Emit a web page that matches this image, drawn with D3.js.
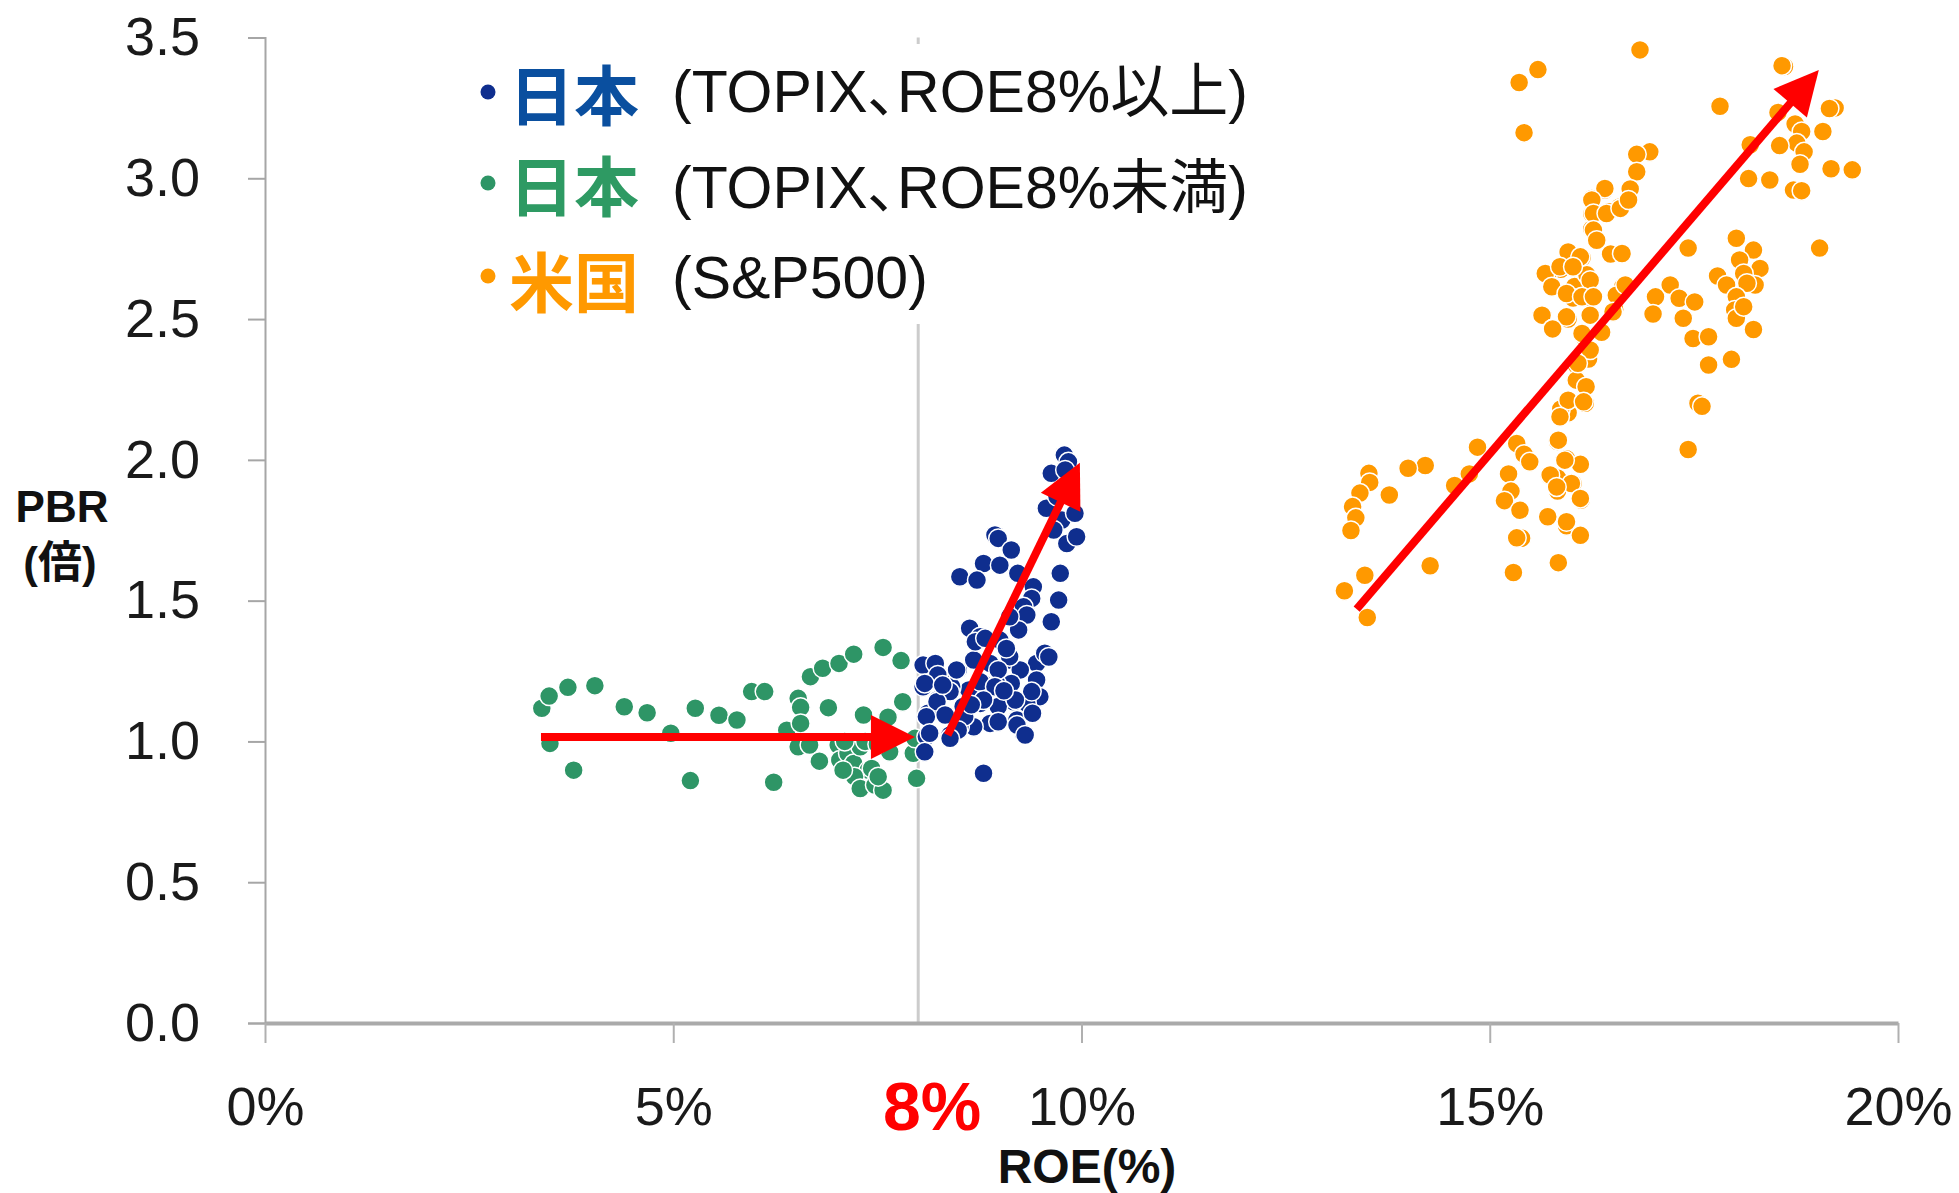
<!DOCTYPE html>
<html>
<head>
<meta charset="utf-8">
<script src="https://cdn.jsdelivr.net/npm/d3@7"></script>
<style>
  body { margin: 0; background: #fff; }
  svg { display: block; }
  text { font-family: "Liberation Sans", Arial, "Noto Sans CJK JP", sans-serif; }
</style>
</head>
<body>
<svg id="chart" width="1959" height="1193"></svg>
<script>
// axis ticks
var xTicks = [0, 5, 10, 15, 20];
var yTicks = [0, 0.5, 1, 1.5, 2, 2.5, 3, 3.5];

// Japan, ROE below 8% (ROE %, PBR)
var greenPts = [
	[3.39, 1.118], [3.48, 1.161], [3.49, 0.993], [3.71, 1.192], [3.78, 0.898], [4.04, 1.198],
	[4.40, 1.123], [4.68, 1.102], [4.97, 1.029], [5.21, 0.861], [5.27, 1.118], [5.56, 1.093],
	[5.78, 1.076], [5.96, 1.177], [6.12, 1.177], [6.23, 0.855], [6.39, 1.040], [6.53, 1.153],
	[6.56, 1.121], [6.56, 1.064], [6.53, 0.981], [6.67, 0.987], [6.68, 1.230], [6.83, 1.260],
	[6.90, 1.120], [6.79, 0.930], [7.03, 1.277], [7.21, 1.310], [7.57, 1.334], [7.79, 1.287],
	[7.81, 1.141], [7.33, 1.094], [7.63, 1.086], [7.02, 0.987], [7.04, 0.934], [7.14, 0.958],
	[7.21, 0.922], [7.29, 0.981], [7.39, 0.898], [7.22, 0.875], [7.29, 0.833], [7.47, 0.845],
	[7.57, 0.827], [7.43, 0.904], [7.65, 0.963], [7.94, 0.958], [7.96, 1.011], [7.98, 0.869],
	[7.08, 0.898], [7.51, 0.875], [7.10, 1.000], [7.35, 1.000], [7.50, 0.990]
];

// Japan, ROE 8% and above
var bluePts = [
	[9.79, 2.017], [9.84, 1.993], [9.63, 1.952], [9.80, 1.964], [9.57, 1.828], [9.76, 1.786],
	[9.82, 1.703], [9.94, 1.727], [9.66, 1.751], [9.92, 1.810], [9.74, 1.597], [9.72, 1.502],
	[9.63, 1.425], [8.94, 1.733], [8.98, 1.721], [9.14, 1.680], [8.80, 1.632], [9.00, 1.626],
	[8.51, 1.585], [8.72, 1.573], [9.22, 1.597], [9.41, 1.549], [9.39, 1.508], [9.29, 1.478],
	[9.33, 1.449], [9.23, 1.396], [9.12, 1.443], [8.63, 1.402], [8.76, 1.372], [9.00, 1.360],
	[9.53, 1.301], [9.45, 1.277], [8.06, 1.271], [8.21, 1.277], [8.27, 1.230], [8.49, 1.254],
	[8.68, 1.289], [8.88, 1.277], [9.12, 1.289], [9.25, 1.254], [9.14, 1.206], [8.96, 1.206],
	[8.80, 1.206], [8.62, 1.183], [8.41, 1.194], [8.23, 1.147], [8.06, 1.194], [8.12, 1.100],
	[9.45, 1.218], [9.49, 1.159], [9.33, 1.135], [9.17, 1.141], [8.98, 1.124], [8.76, 1.135],
	[8.55, 1.124], [8.88, 1.064], [8.68, 1.052], [9.21, 1.076], [9.29, 1.029], [8.51, 1.052],
	[8.39, 1.023], [8.10, 1.017], [8.08, 0.963], [8.70, 1.354], [8.82, 1.366], [9.55, 1.313],
	[9.12, 1.301], [8.47, 1.254], [8.98, 1.254], [8.24, 1.236], [8.08, 1.206], [8.39, 1.177],
	[8.76, 1.212], [8.94, 1.194], [9.39, 1.177], [8.23, 1.141], [8.80, 1.147], [9.19, 1.147],
	[8.10, 1.088], [8.33, 1.094], [8.57, 1.088], [8.98, 1.070], [9.21, 1.058], [9.31, 1.023],
	[8.49, 1.040], [8.39, 1.011], [8.14, 1.029], [8.80, 0.887], [9.87, 1.900], [9.70, 1.870],
	[9.60, 1.300], [9.05, 1.180], [8.65, 1.130], [9.40, 1.100], [8.30, 1.200], [9.08, 1.330]
];

// US (S&P500)
var orangePts = [
	[16.84, 3.456], [15.59, 3.386], [15.36, 3.340], [15.42, 3.162], [18.61, 3.397], [18.58, 3.400],
	[17.82, 3.256], [19.23, 3.250], [19.16, 3.248], [18.53, 3.234], [18.74, 3.193], [18.82, 3.166],
	[19.08, 3.166], [18.76, 3.125], [18.55, 3.116], [18.85, 3.094], [18.19, 3.119], [18.80, 3.050],
	[19.18, 3.034], [19.44, 3.030], [18.17, 2.999], [18.43, 2.994], [18.72, 2.958], [18.82, 2.956],
	[19.04, 2.752], [16.96, 3.094], [16.80, 3.085], [16.80, 3.023], [16.72, 2.962], [16.59, 2.898],
	[16.41, 2.958], [16.25, 2.928], [16.25, 2.874], [16.46, 2.881], [16.30, 2.786], [16.25, 2.820],
	[16.62, 2.731], [16.48, 2.731], [17.43, 2.752], [16.13, 2.718], [15.96, 2.738], [15.87, 2.677],
	[15.71, 2.657], [15.77, 2.616], [16.04, 2.616], [16.19, 2.657], [16.02, 2.575], [16.21, 2.575],
	[15.64, 2.514], [15.77, 2.466], [16.23, 2.514], [15.96, 2.500], [16.53, 2.534], [16.63, 2.616],
	[16.37, 2.453], [16.15, 2.438], [16.21, 2.358], [16.06, 2.337], [16.17, 2.256], [16.06, 2.283],
	[16.17, 2.201], [15.96, 2.167], [15.87, 2.181], [15.83, 2.065], [15.94, 2.004], [16.11, 1.984],
	[15.73, 1.943], [15.83, 1.936], [16.02, 1.916], [15.83, 1.889], [16.12, 1.857], [15.71, 1.798],
	[15.94, 1.766], [16.11, 1.732], [15.84, 1.635], [15.33, 2.058], [15.47, 1.997], [15.42, 2.020],
	[15.23, 1.950], [15.26, 1.889], [15.18, 1.855], [15.37, 1.821], [15.39, 1.722], [15.33, 1.723],
	[15.29, 1.600], [14.85, 2.045], [14.75, 1.950], [14.57, 1.909], [14.21, 1.980], [14.00, 1.970],
	[13.77, 1.875], [13.52, 1.952], [13.53, 1.920], [13.41, 1.882], [13.32, 1.834], [13.36, 1.794],
	[13.30, 1.749], [14.27, 1.624], [13.47, 1.590], [13.22, 1.535], [13.50, 1.440],
	[18.02, 2.787], [18.23, 2.745], [17.79, 2.653], [18.06, 2.710], [18.31, 2.680], [18.11, 2.662],
	[18.25, 2.621], [18.15, 2.627], [17.90, 2.621], [18.02, 2.579], [18.00, 2.532], [18.02, 2.503],
	[18.23, 2.463], [18.11, 2.544], [17.21, 2.621], [17.03, 2.579], [17.00, 2.518], [17.32, 2.574],
	[17.51, 2.561], [17.37, 2.503], [17.49, 2.431], [17.68, 2.437], [17.68, 2.337], [17.96, 2.357],
	[17.55, 2.201], [17.60, 2.190], [17.43, 2.037],
	[16.11, 2.721], [15.68, 2.662], [15.76, 2.615], [15.86, 2.686], [16.02, 2.686], [16.23, 2.638],
	[15.94, 2.591], [16.13, 2.579], [16.27, 2.579], [16.55, 2.585], [16.66, 2.621], [16.51, 2.526],
	[15.94, 2.508], [15.77, 2.465], [16.13, 2.449], [16.23, 2.390], [16.08, 2.343], [16.18, 2.260],
	[15.96, 2.212], [16.15, 2.206], [15.86, 2.153], [15.84, 2.070], [15.49, 1.993], [15.74, 1.946],
	[15.92, 1.999], [16.00, 1.916], [15.82, 1.904], [16.11, 1.863], [15.94, 1.780],
	[16.41, 2.964], [16.25, 2.923], [16.27, 2.875], [16.43, 2.875], [16.60, 2.893], [16.70, 2.923],
	[16.27, 2.816], [16.31, 2.780], [16.62, 2.733]
];

// red trend arrows: [from, to] in (ROE %, PBR)
var arrows = [
	[[3.38, 1.016], [7.96, 1.016]],
	[[8.36, 1.023], [9.98, 1.99]],
	[[13.37, 1.47], [19.03, 3.385]]
];

// legend rows
var legendLabels = ["日本", "日本", "米国"];
var legendNotes = ["(TOPIX、ROE8%以上)", "(TOPIX、ROE8%未満)", "(S&P500)"];
var legendTextColors = ["#0a4f9f", "#2e9a63", "#ff9900"];
var dotColors = ["#0f2e8e", "#2e9566", "#ff9900"];

var svg = d3.select("#chart");

var x = d3.scaleLinear().domain([0, 20]).range([265, 1898]);
var y = d3.scaleLinear().domain([0, 3.5]).range([1023, 37.5]);

// 8% line
svg.append("line")
	.attr("x1", x(8)).attr("x2", x(8))
	.attr("y1", y(3.5)).attr("y2", y(0))
	.attr("stroke", "#cccccc")
	.attr("stroke-width", 3);

// y axis
var yAxis = svg.append("g")
	.attr("transform", "translate(" + x(0) + ",0)")
	.call(d3.axisLeft(y).tickValues(yTicks).tickSize(17).tickPadding(48).tickFormat(d3.format(".1f")));
yAxis.select(".domain").attr("stroke", "#a6a6a6").attr("stroke-width", 2);
yAxis.selectAll(".tick line").attr("stroke", "#a6a6a6").attr("stroke-width", 2);
yAxis.selectAll(".tick text")
	.attr("font-family", "'Liberation Sans', Arial, sans-serif")
	.attr("font-size", 54)
	.attr("fill", "#1a1a1a");

// x axis
var xAxis = svg.append("g")
	.attr("transform", "translate(0," + y(0) + ")")
	.call(d3.axisBottom(x).tickValues(xTicks).tickSize(20).tickSizeOuter(0).tickPadding(44).tickFormat(function (d) { return d + "%"; }));
xAxis.select(".domain").attr("stroke", "#aaaaaa").attr("stroke-width", 4);
xAxis.selectAll(".tick line").attr("stroke", "#b0b0b0").attr("stroke-width", 2);
xAxis.selectAll(".tick text")
	.attr("font-family", "'Liberation Sans', Arial, sans-serif")
	.attr("font-size", 54)
	.attr("fill", "#1a1a1a");

// red 8% label
svg.append("text")
	.attr("x", x(8) + 14)
	.attr("y", 1130)
	.attr("text-anchor", "middle")
	.attr("font-size", 68)
	.attr("font-weight", "bold")
	.attr("fill", "#ff0000")
	.text("8%");

// axis titles
svg.append("text")
	.attr("x", 1087).attr("y", 1183)
	.attr("text-anchor", "middle")
	.attr("font-size", 48)
	.attr("font-weight", "bold")
	.attr("fill", "#111")
	.text("ROE(%)");

svg.append("text")
	.attr("x", 62).attr("y", 522)
	.attr("text-anchor", "middle")
	.attr("font-size", 44)
	.attr("font-weight", "bold")
	.attr("fill", "#111")
	.text("PBR");
svg.append("text")
	.attr("x", 60).attr("y", 578)
	.attr("text-anchor", "middle")
	.attr("font-size", 44)
	.attr("font-weight", "bold")
	.attr("fill", "#111")
	.text("(倍)");

// scatter
function drawDots(pts, color) {
	svg.append("g").selectAll("circle")
		.data(pts)
		.enter().append("circle")
		.attr("cx", function (d) { return x(d[0]); })
		.attr("cy", function (d) { return y(d[1]); })
		.attr("r", 9.5)
		.attr("fill", color)
		.attr("stroke", "#ffffff")
		.attr("stroke-width", 1.5);
}
drawDots(greenPts, dotColors[1]);
drawDots(bluePts, dotColors[0]);
drawDots(orangePts, dotColors[2]);

// arrows
arrows.forEach(function (a) {
	var x0 = x(a[0][0]), y0 = y(a[0][1]);
	var x1 = x(a[1][0]), y1 = y(a[1][1]);
	var ang = Math.atan2(y1 - y0, x1 - x0);
	var headLen = 44, headHalf = 22;
	var bx = x1 - headLen * Math.cos(ang), by = y1 - headLen * Math.sin(ang);
	svg.append("line")
		.attr("x1", x0).attr("y1", y0)
		.attr("x2", bx + 2 * Math.cos(ang)).attr("y2", by + 2 * Math.sin(ang))
		.attr("stroke", "#ff0000")
		.attr("stroke-width", 8);
	var px = -Math.sin(ang), py = Math.cos(ang);
	svg.append("polygon")
		.attr("points", [
			[x1, y1],
			[bx + px * headHalf, by + py * headHalf],
			[bx - px * headHalf, by - py * headHalf]
		].map(function (p) { return p.join(","); }).join(" "))
		.attr("fill", "#ff0000");
});

// legend (white box hides the 8% line behind it)
svg.append("rect")
	.attr("x", 470).attr("y", 44)
	.attr("width", 790).attr("height", 280)
	.attr("fill", "#ffffff");

var rowDotY = [92, 183, 276];
var rowCjkY = [120, 211, 307];
var rowTextY = [112, 208, 298];
legendLabels.forEach(function (lab, i) {
	svg.append("circle")
		.attr("cx", 488).attr("cy", rowDotY[i])
		.attr("r", 7.5)
		.attr("fill", dotColors[i]);
	svg.append("text")
		.attr("x", 509).attr("y", rowCjkY[i])
		.attr("font-family", "'Noto Sans CJK JP', sans-serif")
		.attr("font-size", 65)
		.attr("font-weight", "bold")
		.attr("fill", legendTextColors[i])
		.text(lab);
	svg.append("text")
		.attr("x", 672).attr("y", rowTextY[i])
		.attr("font-size", 59)
		.style("font-feature-settings", "'palt'")
		.attr("fill", "#111")
		.text(legendNotes[i]);
});
</script>
</body>
</html>
